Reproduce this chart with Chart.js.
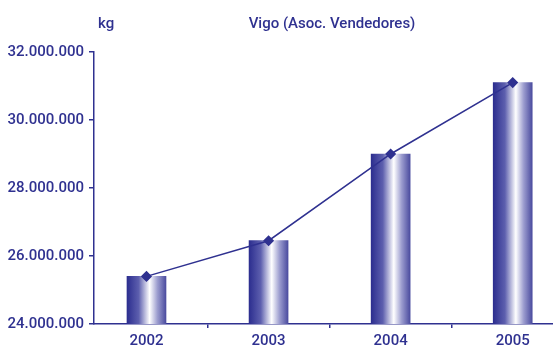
<!DOCTYPE html>
<html>
<head>
<meta charset="utf-8">
<script src="https://cdn.jsdelivr.net/npm/chart.js@4/dist/chart.umd.min.js"></script>
<style>
  html, body { margin: 0; padding: 0; background: #fff; overflow: hidden; }
  #wrap { width: 553px; height: 345px; }
</style>
</head>
<body>
<div id="wrap"><canvas id="vigo-chart" width="553" height="345"></canvas></div>
<script>
const years = ['2002', '2003', '2004', '2005'];
const kilos = [25400000, 26450000, 29000000, 31100000];
const yMin = 24000000;
const yMax = 32000000;
const yStep = 2000000;

const navy = '#2f3190';
const fontFamily = 'Roboto, "Liberation Sans", sans-serif';

// 32000000 -> "32.000.000"
let formatKg = function (v) {
    return String(Math.round(v)).replace(/\B(?=(\d{3})+(?!\d))/g, '.');
};

// metallic look: dark edge, white highlight right of centre, softer right edge
let barFill = function (context) {
    let chart = context.chart;
    let x = chart.scales.x;
    if (!x || !chart.chartArea || context.parsed === undefined) return navy;
    let cx = x.getPixelForValue(context.parsed.x);
    let g = chart.ctx.createLinearGradient(cx - 19.5, 0, cx + 19.5, 0);
    g.addColorStop(0, '#2c2e8f');
    g.addColorStop(0.3, '#5d5fae');
    g.addColorStop(0.58, '#ffffff');
    g.addColorStop(0.78, '#9c9dcf');
    g.addColorStop(1, '#4b4c9f');
    return g;
};

const headerText = {
    id: 'headerText',
    afterDraw: function (chart) {
        let ctx = chart.ctx;
        ctx.save();
        ctx.fillStyle = navy;
        ctx.font = '500 15px ' + fontFamily;
        ctx.textBaseline = 'alphabetic';
        ctx.textAlign = 'left';
        ctx.fillText('kg', 98, 28);
        ctx.textAlign = 'center';
        ctx.fillText('Vigo (Asoc. Vendedores)', 332, 28);
        ctx.restore();
    }
};

let points = kilos.map(function (v, i) { return { x: i, y: v }; });

new Chart(document.getElementById('vigo-chart'), {
    data: {
        datasets: [{
            type: 'line',
            data: points,
            order: 0,
            borderColor: navy,
            borderWidth: 1.5,
            pointStyle: 'rectRot',
            pointRadius: 4.5,
            pointBackgroundColor: navy,
            pointBorderColor: navy,
            tension: 0
        }, {
            type: 'bar',
            data: points,
            order: 1,
            barThickness: 39,
            backgroundColor: barFill,
            borderWidth: 0
        }]
    },
    options: {
        responsive: false,
        animation: false,
        layout: { autoPadding: false, padding: { top: 52, right: 0, left: 0, bottom: 0 } },
        plugins: {
            legend: { display: false },
            tooltip: { enabled: false }
        },
        scales: {
            x: {
                type: 'linear',
                offset: false,
                min: -0.43,
                max: 3.33,
                afterBuildTicks: function (scale) {
                    scale.ticks = [0, 0.5, 1, 1.5, 2, 2.5, 3].map(function (v) { return { value: v }; });
                },
                afterFit: function (scale) {
                    scale.height = 21;
                    scale.paddingLeft = 0;
                    scale.paddingRight = 0;
                },
                border: { display: true, color: navy, width: 1.5 },
                grid: {
                    offset: false,
                    drawOnChartArea: false,
                    tickLength: 4,
                    lineWidth: 1.5,
                    color: function (c) {
                        return (c.tick && Number.isInteger(c.tick.value)) ? 'rgba(0,0,0,0)' : navy;
                    }
                },
                ticks: {
                    autoSkip: false,
                    maxRotation: 0,
                    padding: 4,
                    color: navy,
                    font: { family: fontFamily, size: 15, weight: '500' },
                    callback: function (v) { return Number.isInteger(v) ? years[v] : ''; }
                }
            },
            y: {
                min: yMin,
                max: yMax,
                afterFit: function (scale) { scale.width = 94; },
                border: { display: true, color: navy, width: 1.5 },
                grid: {
                    drawOnChartArea: false,
                    tickLength: 5,
                    lineWidth: 1.5,
                    color: navy
                },
                ticks: {
                    stepSize: yStep,
                    padding: 5,
                    color: navy,
                    font: { family: fontFamily, size: 15, weight: '500' },
                    callback: formatKg
                }
            }
        }
    },
    plugins: [headerText]
});
</script>
</body>
</html>
